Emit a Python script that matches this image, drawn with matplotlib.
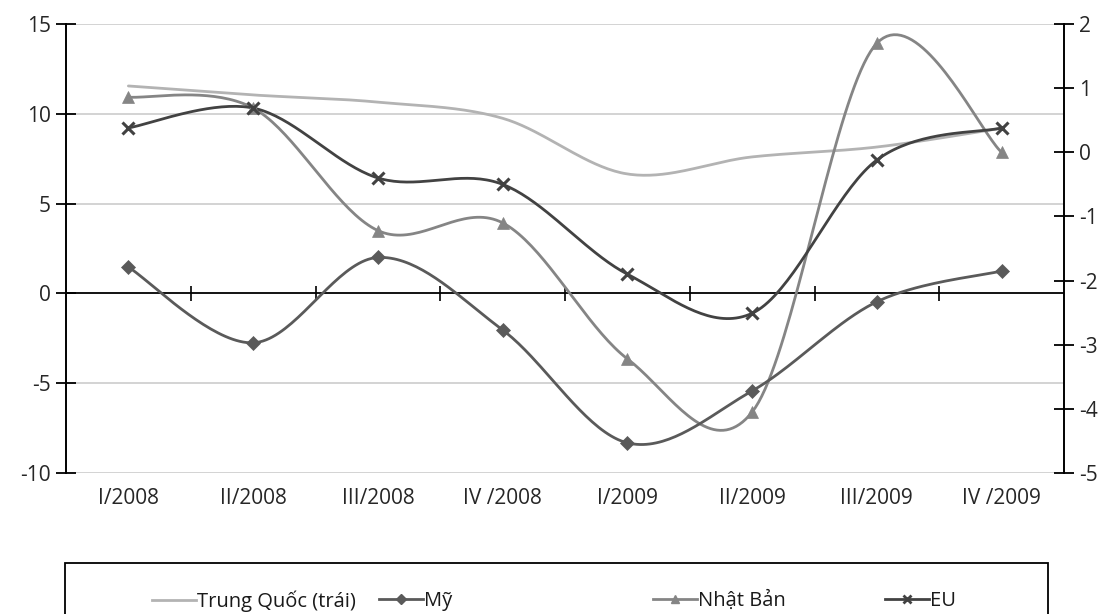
import numpy as np
import matplotlib
matplotlib.use("Agg")
import matplotlib.pyplot as plt
from matplotlib.lines import Line2D
from matplotlib.patches import Rectangle

plt.rcParams['font.family'] = ['Open Sans', 'DejaVu Sans']
plt.rcParams['axes.unicode_minus'] = False

quarters = ["I/2008", "II/2008", "III/2008", "IV /2008",
            "I/2009", "II/2009", "III/2009", "IV /2009"]

# Left axis (%)
trung_quoc = [11.55, 11.05, 10.65, 9.75, 6.65, 7.6, 8.15, 9.2]
# Right axis (%)
my = [-1.79, -2.97, -1.64, -2.77, -4.53, -3.72, -2.33, -1.85]
nhat_ban = [0.86, 0.69, -1.22, -1.10, -3.22, -4.05, 1.70, 0.0]
eu = [0.38, 0.69, -0.40, -0.50, -1.90, -2.51, -0.12, 0.38]

left_ticks = [-10, -5, 0, 5, 10, 15]
right_ticks = [-5, -4, -3, -2, -1, 0, 1, 2]


def smooth(xs, ys, n=40):
    """Cubic Bezier smoothing through every point (Catmull-Rom style)."""
    p = np.column_stack([xs, ys]).astype(float)
    ext = np.vstack([p[0], p, p[-1]])
    out = []
    t = np.linspace(0, 1, n)[:, None]
    for i in range(len(p) - 1):
        p0, p1 = ext[i + 1], ext[i + 2]
        c1 = p0 + (ext[i + 2] - ext[i]) / 6.0
        c2 = p1 - (ext[i + 3] - ext[i + 1]) / 6.0
        seg = ((1 - t) ** 3) * p0 + 3 * ((1 - t) ** 2) * t * c1 \
            + 3 * (1 - t) * t ** 2 * c2 + t ** 3 * p1
        out.append(seg if i == 0 else seg[1:])
    s = np.vstack(out)
    return s[:, 0], s[:, 1]


fig = plt.figure(figsize=(11.07, 6.14), dpi=100)
ax = fig.add_axes([66 / 1107, 1 - 473 / 614, (1064 - 66) / 1107, (473 - 24) / 614])
ax2 = ax.twinx()

x = np.arange(len(quarters))
tick_color = "#262626"

# grid and zero line
for v in left_ticks:
    if v == 0:
        continue
    ax.axhline(v, color="#c8c8c8", lw=1.1, zorder=0)
ax.axhline(0, color="black", lw=1.3, zorder=1)
ax.vlines(x[:-1] + 0.5, -0.4, 0.4, color="black", lw=1.2, zorder=1)

c_tq = "#b3b3b3"
c_my = "#5a5a5a"
c_nb = "#858585"
c_eu = "#424242"
lw = 2.0

sx, sy = smooth(x, trung_quoc)
ax.plot(sx, sy, color=c_tq, lw=lw, zorder=2, solid_capstyle="round")

for vals, col, mk, ms in [(nhat_ban, c_nb, "^", 9),
                          (my, c_my, "D", 7),
                          (eu, c_eu, "x", 8)]:
    sx, sy = smooth(x, vals)
    ax2.plot(sx, sy, color=col, lw=lw, zorder=2, solid_capstyle="round")
    ax2.plot(x, vals, linestyle="none", marker=mk, markersize=ms, color=col,
             markeredgewidth=2.2 if mk == "x" else 0.5, zorder=3)

ax.set_xlim(-0.5, len(quarters) - 0.5)
ax.set_ylim(-10, 15)
ax2.set_ylim(-5, 2)
ax.set_yticks(left_ticks)
ax2.set_yticks(right_ticks)
ax.set_xticks(x)
ax.set_xticklabels(quarters)

for s in ["top", "bottom"]:
    ax.spines[s].set_visible(False)
    ax2.spines[s].set_visible(False)
ax.spines["right"].set_visible(False)
ax2.spines["left"].set_visible(False)
ax.spines["left"].set_linewidth(1.4)
ax2.spines["right"].set_linewidth(1.4)

fs = 15
ax.tick_params(axis="x", length=0, pad=11, labelsize=fs, labelcolor=tick_color)
ax.tick_params(axis="y", direction="inout", length=14, width=1.3,
               labelsize=fs, labelcolor=tick_color, pad=4)
ax2.tick_params(axis="y", direction="inout", length=14, width=1.3,
                labelsize=fs, labelcolor=tick_color, pad=4)

# legend box
box = Rectangle((65 / 1107, -0.05), (1048 - 65) / 1107, 1 - 563 / 614 + 0.05,
                transform=fig.transFigure, fill=False, edgecolor="black",
                lw=1.3, clip_on=False)
fig.patches.append(box)

entries = [
    (Line2D([], [], color=c_tq, lw=lw), "Trung Quốc (trái)", 152),
    (Line2D([], [], color=c_my, lw=lw, marker="D", markersize=5), "Mỹ", 379),
    (Line2D([], [], color=c_nb, lw=lw, marker="^", markersize=6), "Nhật Bản", 653),
    (Line2D([], [], color=c_eu, lw=lw, marker="x", markersize=6,
            markeredgewidth=2), "EU", 885),
]
for handle, label, xpx in entries:
    fig.legend([handle], [label], loc="center left",
               bbox_to_anchor=(xpx / 1107, 1 - 601 / 614),
               frameon=False, fontsize=14.5, handlelength=2.2,
               handletextpad=0.05, borderpad=0, borderaxespad=0,
               labelcolor="#1a1a1a")

fig.savefig("out.png", dpi=100)
